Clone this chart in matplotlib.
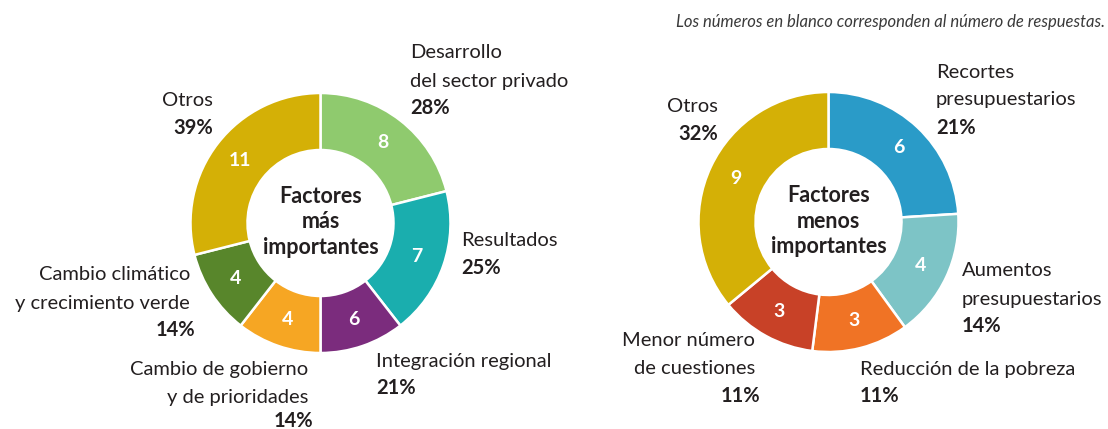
import numpy as np
import matplotlib
matplotlib.use('Agg')
import matplotlib.pyplot as plt

plt.rcParams['font.family'] = ['Lato', 'DejaVu Sans']

# factores más importantes: tamaño de los sectores tal como se dibujan, y cifras en blanco
mas_sizes = [8, 7, 4, 4, 4, 11]
mas_numbers = ['8', '7', '6', '4', '4', '11']
mas_colors = ['#8fca6e', '#1aaeae', '#7b2c7d', '#f6a623', '#58862b', '#d4b006']

# factores menos importantes
menos_sizes = [6, 4, 3, 3, 9]
menos_numbers = ['6', '4', '3', '3', '9']
menos_colors = ['#2a9bc8', '#7dc4c6', '#f07325', '#c84127', '#d4b006']

TXT = '#231f20'
W, H = 1108, 429
FS = 14.5

fig = plt.figure(figsize=(W / 100, H / 100), dpi=100)
ax = fig.add_axes([0, 0, 1, 1])


def donut(sizes, numbers, colors, cx, cy, title):
    wedges, _ = ax.pie(sizes, colors=colors, startangle=90, counterclock=False,
                       center=(cx, cy), radius=130,
                       wedgeprops=dict(width=57, edgecolor='white', linewidth=1.8))
    for w, n in zip(wedges, numbers):
        ang = np.deg2rad((w.theta1 + w.theta2) / 2)
        ax.text(cx + 102 * np.cos(ang), cy + 102 * np.sin(ang), n,
                color='white', fontsize=14, fontweight='bold',
                ha='center', va='center')
    ax.text(cx, cy + 1, title, ha='center', va='center', color=TXT,
            fontsize=15.5, fontweight='bold', linespacing=1.25)


donut(mas_sizes, mas_numbers, mas_colors, 320.5, H - 223, 'Factores\nmás\nimportantes')
donut(menos_sizes, menos_numbers, menos_colors, 828.5, H - 222, 'Factores\nmenos\nimportantes')


def label(x, y, lines, pct, ha='left', px=None, pgap=27.5):
    # y = pixel from top of the first line
    for i, ln in enumerate(lines):
        ax.text(x, H - (y + 28 * i), ln, ha=ha, va='center', color=TXT, fontsize=FS)
    ax.text(px if px is not None else x, H - (y + 28 * (len(lines) - 1) + pgap), pct,
            ha=ha, va='center', color=TXT, fontsize=FS, fontweight='bold')


# izquierda
label(410, 53, ['Desarrollo', 'del sector privado'], '28%')
label(461, 241, ['Resultados'], '25%')
label(376, 361, ['Integración regional'], '21%')
label(308, 370, ['Cambio de gobierno', 'y de prioridades'], '14%', ha='right', px=313, pgap=23)
label(190, 275, ['Cambio climático', 'y crecimiento verde'], '14%', ha='right', px=195)
label(213, 101, ['Otros'], '39%', ha='right')

# derecha
label(936, 72, ['Recortes', 'presupuestarios'], '21%')
label(962, 271, ['Aumentos', 'presupuestarios'], '14%')
label(860, 369, ['Reducción de la pobreza'], '11%')
label(755, 341, ['Menor número', 'de cuestiones'], '11%', ha='right', px=760)
label(718, 107, ['Otros'], '32%', ha='right')

ax.text(1105, H - 22, 'Los números en blanco corresponden al número de respuestas.',
        ha='right', va='center', color='#3a3a3a', fontsize=12, fontstyle='italic')

ax.set_xlim(0, W)
ax.set_ylim(0, H)
ax.set_aspect('equal')
ax.axis('off')

fig.savefig('out.png', dpi=100)
